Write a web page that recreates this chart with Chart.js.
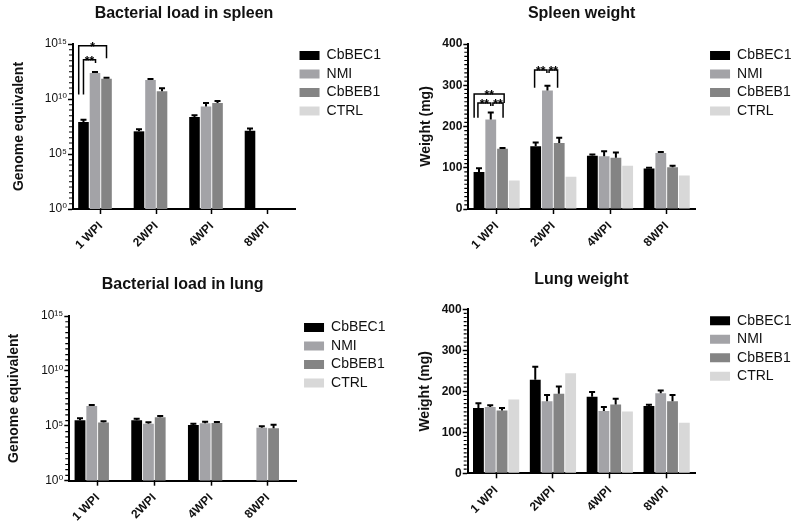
<!DOCTYPE html>
<html>
<head>
<meta charset="utf-8">
<script src="https://cdn.jsdelivr.net/npm/chart.js@4.4.1/dist/chart.umd.min.js"></script>
<style>
  html, body { margin: 0; padding: 0; background: #fff; overflow: hidden; }
  canvas { position: absolute; }
</style>
</head>
<body>
<canvas id="spleenLoad" width="397" height="260" style="left:0;top:0"></canvas>
<canvas id="spleenWeight" width="397" height="260" style="left:397px;top:0"></canvas>
<canvas id="lungLoad" width="397" height="263" style="left:0;top:260px"></canvas>
<canvas id="lungWeight" width="397" height="263" style="left:397px;top:260px"></canvas>
<script>
const categories = ["1 WPI", "2WPI", "4WPI", "8WPI"];
const groups = ["CbBEC1", "NMI", "CbBEB1", "CTRL"];
const groupColors = ["#000000", "#a3a3a7", "#848484", "#d8d8d8"];

const logTicks = [1, 1e5, 1e10, 1e15];
const weightTicks = [0, 100, 200, 300, 400];

// bacterial load in spleen (genome equivalent), mean + error
const spleenLoadCbBEC1 = [8.1e7, 1.15e7, 2.3e8, 1.3e7];
const spleenLoadNMI = [2.3e12, 5.4e11, 2.1e9, null];
const spleenLoadCbBEB1 = [7.1e11, 5e10, 4.4e9, null];
const spleenLoadCTRL = [null, null, null, null];
const spleenLoadCbBEC1Err = [5e7, 6e6, 1e8, 8e6];
const spleenLoadNMIErr = [5e11, 1.2e11, 2.3e9, null];
const spleenLoadCbBEB1Err = [1.6e11, 4.3e10, 2.2e9, null];

// spleen weight (mg)
const spleenWeightCbBEC1 = [90, 152, 129, 98];
const spleenWeightNMI = [217, 287, 128, 136];
const spleenWeightCbBEB1 = [146, 160, 124, 101];
const spleenWeightCTRL = [69, 78, 105, 81];
const spleenWeightCbBEC1Err = [9, 9, 3, 2];
const spleenWeightNMIErr = [17, 12, 12, 2];
const spleenWeightCbBEB1Err = [2, 13, 13, 4];

// bacterial load in lung (genome equivalent)
const lungLoadCbBEC1 = [3.2e5, 3.2e5, 1.2e5, null];
const lungLoadNMI = [6.3e6, 1.56e5, 1.67e5, 6.7e4];
const lungLoadCbBEB1 = [2.0e5, 5.9e5, 1.8e5, 5.9e4];
const lungLoadCTRL = [null, null, null, null];
const lungLoadCbBEC1Err = [1.6e5, 1.3e5, 3.5e4, null];
const lungLoadNMIErr = [1.5e6, 6e4, 7e4, 2.2e4];
const lungLoadCbBEB1Err = [6e4, 1.9e5, 4e4, 6.7e4];

// lung weight (mg)
const lungWeightCbBEC1 = [159, 228, 187, 164];
const lungWeightNMI = [162, 176, 152, 195];
const lungWeightCbBEB1 = [153, 194, 168, 176];
const lungWeightCTRL = [180, 244, 151, 123];
const lungWeightCbBEC1Err = [12, 32, 11, 3];
const lungWeightNMIErr = [4, 15, 10, 7];
const lungWeightCbBEB1Err = [6, 18, 14, 15];

// significance brackets: category, bars joined, bracket level and leg ends (data units)
const spleenLoadBrackets = [
    { cat: 0, from: 0, fromShift: -0.45, to: 2, toShift: 0, top: 7e14, leftEnd: 2.5e10, rightEnd: 5e13, label: "*" },
    { cat: 0, from: 0, fromShift: 0, to: 1, toShift: 0.05, top: 3.7e13, leftEnd: 2.5e10, rightEnd: 1.9e13, label: "**" }
];
const spleenWeightBrackets = [
    { cat: 0, from: 0, fromShift: -0.45, to: 2, toShift: 0.15, top: 279, leftEnd: 221, rightEnd: 257, label: "**" },
    { cat: 0, from: 0, fromShift: -0.1, to: 1, toShift: 0, top: 257, leftEnd: 221, rightEnd: 250, label: "**" },
    { cat: 0, from: 1, fromShift: 0.2, to: 2, toShift: 0.05, top: 257, leftEnd: 250, rightEnd: 221, label: "**" },
    { cat: 1, from: 0, fromShift: -0.1, to: 1, toShift: -0.05, top: 337, leftEnd: 294, rightEnd: 330, label: "**" },
    { cat: 1, from: 1, fromShift: 0.15, to: 2, toShift: -0.15, top: 337, leftEnd: 330, rightEnd: 294, label: "**" }
];

Chart.defaults.font.family = "'Liberation Sans', Arial, 'DejaVu Sans', sans-serif";
Chart.defaults.color = "#111";

const supDigits = "⁰¹²³⁴⁵⁶⁷⁸⁹";
function powerLabel(v) {
    let e = Math.round(Math.log10(v));
    return "10" + String(e).split("").map(d => supDigits[d]).join("");
}

const errorBarPlugin = {
    id: "errorBars",
    afterDatasetsDraw(chart) {
        let ctx = chart.ctx;
        let yScale = chart.scales.y;
        ctx.save();
        ctx.strokeStyle = "#000";
        ctx.lineWidth = 2;
        chart.data.datasets.forEach((ds, i) => {
            if (!ds.errors) return;
            chart.getDatasetMeta(i).data.forEach((bar, j) => {
                let v = ds.data[j], e = ds.errors[j];
                if (v == null || e == null) return;
                let top = yScale.getPixelForValue(v + e);
                ctx.beginPath();
                ctx.moveTo(bar.x, bar.y);
                ctx.lineTo(bar.x, top);
                ctx.moveTo(bar.x - 3, top);
                ctx.lineTo(bar.x + 3, top);
                ctx.stroke();
            });
        });
        ctx.restore();
    }
};

function bracketPlugin(items) {
    return {
        id: "brackets",
        afterDatasetsDraw(chart) {
            let ctx = chart.ctx;
            let yScale = chart.scales.y;
            ctx.save();
            ctx.strokeStyle = "#000";
            ctx.fillStyle = "#000";
            ctx.lineWidth = 1.5;
            ctx.font = "bold 12px 'Liberation Sans', Arial, sans-serif";
            ctx.textAlign = "center";
            ctx.textBaseline = "alphabetic";
            items.forEach(b => {
                let barA = chart.getDatasetMeta(b.from).data[b.cat];
                let barB = chart.getDatasetMeta(b.to).data[b.cat];
                let x1 = barA.x + b.fromShift * barA.width;
                let x2 = barB.x + b.toShift * barB.width;
                let yt = yScale.getPixelForValue(b.top);
                ctx.beginPath();
                ctx.moveTo(x1, yScale.getPixelForValue(b.leftEnd));
                ctx.lineTo(x1, yt);
                ctx.lineTo(x2, yt);
                ctx.lineTo(x2, yScale.getPixelForValue(b.rightEnd));
                ctx.stroke();
                ctx.fillText(b.label, (x1 + x2) / 2, yt + 5);
            });
            ctx.restore();
        }
    };
}

function minorTickPlugin(values) {
    return {
        id: "minorTicks",
        afterDraw(chart) {
            let ctx = chart.ctx;
            let yScale = chart.scales.y;
            let x = chart.chartArea.left - 1;
            ctx.save();
            ctx.strokeStyle = "#000";
            ctx.lineWidth = 1.2;
            ctx.beginPath();
            values.forEach(v => {
                let p = yScale.getPixelForValue(v);
                ctx.moveTo(x - 3, p);
                ctx.lineTo(x, p);
            });
            ctx.stroke();
            ctx.restore();
        }
    };
}

let logMinor = [];
for (let n = 0; n < 15; n++) {
    if (n % 5 !== 0) logMinor.push(Math.pow(10, n));
    logMinor.push(3 * Math.pow(10, n));
}
let weightMinor = [];
for (let v = 10; v < 400; v += 10) {
    if (v % 100 !== 0) weightMinor.push(v);
}

function buildChart(id, o) {
    let datasets = groups.map((g, i) => ({
        label: g,
        data: o.values[i],
        errors: o.errors[i],
        backgroundColor: groupColors[i],
        borderWidth: 0,
        yAxisID: "y",
        categoryPercentage: 0.83,
        barPercentage: 0.92
    }));
    new Chart(document.getElementById(id), {
        type: "bar",
        data: { labels: categories, datasets: datasets },
        options: {
            responsive: false,
            animation: false,
            layout: { padding: { left: 0, top: 0, bottom: 0, right: o.padRight } },
            plugins: {
                title: {
                    display: true, text: o.title, fullSize: false, color: "#111",
                    font: { size: 16, weight: "bold" },
                    padding: { top: o.titleTop, bottom: o.titleBottom }
                },
                legend: {
                    position: "right", align: "start", fullSize: false, maxWidth: 120,
                    labels: { boxWidth: 20, boxHeight: 9, padding: 4.5, color: "#111", font: { size: 14 } }
                },
                tooltip: { enabled: false }
            },
            scales: {
                x: {
                    grid: { display: true, drawOnChartArea: false, offset: false, tickLength: 5, tickColor: "#000", tickWidth: 1.5 },
                    border: { display: true, color: "#000", width: 2 },
                    ticks: { autoSkip: false, minRotation: 45, maxRotation: 45, color: "#111", padding: 5, font: { size: 12, weight: "bold" } },
                    afterFit: s => { s.height = o.xHeight; }
                },
                y: {
                    type: o.log ? "logarithmic" : "linear",
                    min: o.log ? 1 : 0,
                    max: o.log ? 1e15 : 400,
                    afterBuildTicks: s => { s.ticks = o.ticks.map(v => ({ value: v })); },
                    grid: { display: true, drawOnChartArea: false, tickLength: 5, tickColor: "#000", tickWidth: 1.5 },
                    border: { display: true, color: "#000", width: 2 },
                    ticks: {
                        callback: v => o.log ? powerLabel(v) : String(v),
                        color: "#111", padding: 1,
                        font: { size: 12, weight: o.log ? "normal" : "bold" }
                    },
                    title: {
                        display: true, text: o.yTitle, color: "#111",
                        font: { size: 14, weight: "bold" },
                        padding: { top: o.yTitlePad, bottom: 0 }
                    },
                    afterFit: s => { s.width = o.yWidth; }
                },
                gap: {
                    type: "linear", position: "right", display: true,
                    grid: { display: false }, border: { display: false }, ticks: { display: false },
                    afterFit: s => { s.width = o.gap; }
                }
            }
        },
        plugins: [errorBarPlugin, bracketPlugin(o.brackets), minorTickPlugin(o.log ? logMinor : weightMinor)]
    });
}

buildChart("spleenLoad", {
    title: "Bacterial load in spleen", yTitle: "Genome equivalent", log: true, ticks: logTicks,
    values: [spleenLoadCbBEC1, spleenLoadNMI, spleenLoadCbBEB1, spleenLoadCTRL],
    errors: [spleenLoadCbBEC1Err, spleenLoadNMIErr, spleenLoadCbBEB1Err, null],
    brackets: spleenLoadBrackets,
    titleTop: 4, titleBottom: 20.8, xHeight: 51, yWidth: 73, yTitlePad: 10.8, gap: 0, padRight: 6
});
buildChart("spleenWeight", {
    title: "Spleen weight", yTitle: "Weight (mg)", log: false, ticks: weightTicks,
    values: [spleenWeightCbBEC1, spleenWeightNMI, spleenWeightCbBEB1, spleenWeightCTRL],
    errors: [spleenWeightCbBEC1Err, spleenWeightNMIErr, spleenWeightCbBEB1Err, null],
    brackets: spleenWeightBrackets,
    titleTop: 4, titleBottom: 20.8, xHeight: 51, yWidth: 71.3, yTitlePad: 20.4, gap: 10.5, padRight: -7.5
});
buildChart("lungLoad", {
    title: "Bacterial load in lung", yTitle: "Genome equivalent", log: true, ticks: logTicks,
    values: [lungLoadCbBEC1, lungLoadNMI, lungLoadCbBEB1, lungLoadCTRL],
    errors: [lungLoadCbBEC1Err, lungLoadNMIErr, lungLoadCbBEB1Err, null],
    brackets: [],
    titleTop: 14.7, titleBottom: 22.1, xHeight: 42.3, yWidth: 69.3, yTitlePad: 5.8, gap: 3.5, padRight: 1.5
});
buildChart("lungWeight", {
    title: "Lung weight", yTitle: "Weight (mg)", log: false, ticks: weightTicks,
    values: [lungWeightCbBEC1, lungWeightNMI, lungWeightCbBEB1, lungWeightCTRL],
    errors: [lungWeightCbBEC1Err, lungWeightNMIErr, lungWeightCbBEB1Err, null],
    brackets: [],
    titleTop: 10.4, titleBottom: 19.7, xHeight: 49.7, yWidth: 70.7, yTitlePad: 19.6, gap: 10.5, padRight: -7.5
});
</script>
</body>
</html>
